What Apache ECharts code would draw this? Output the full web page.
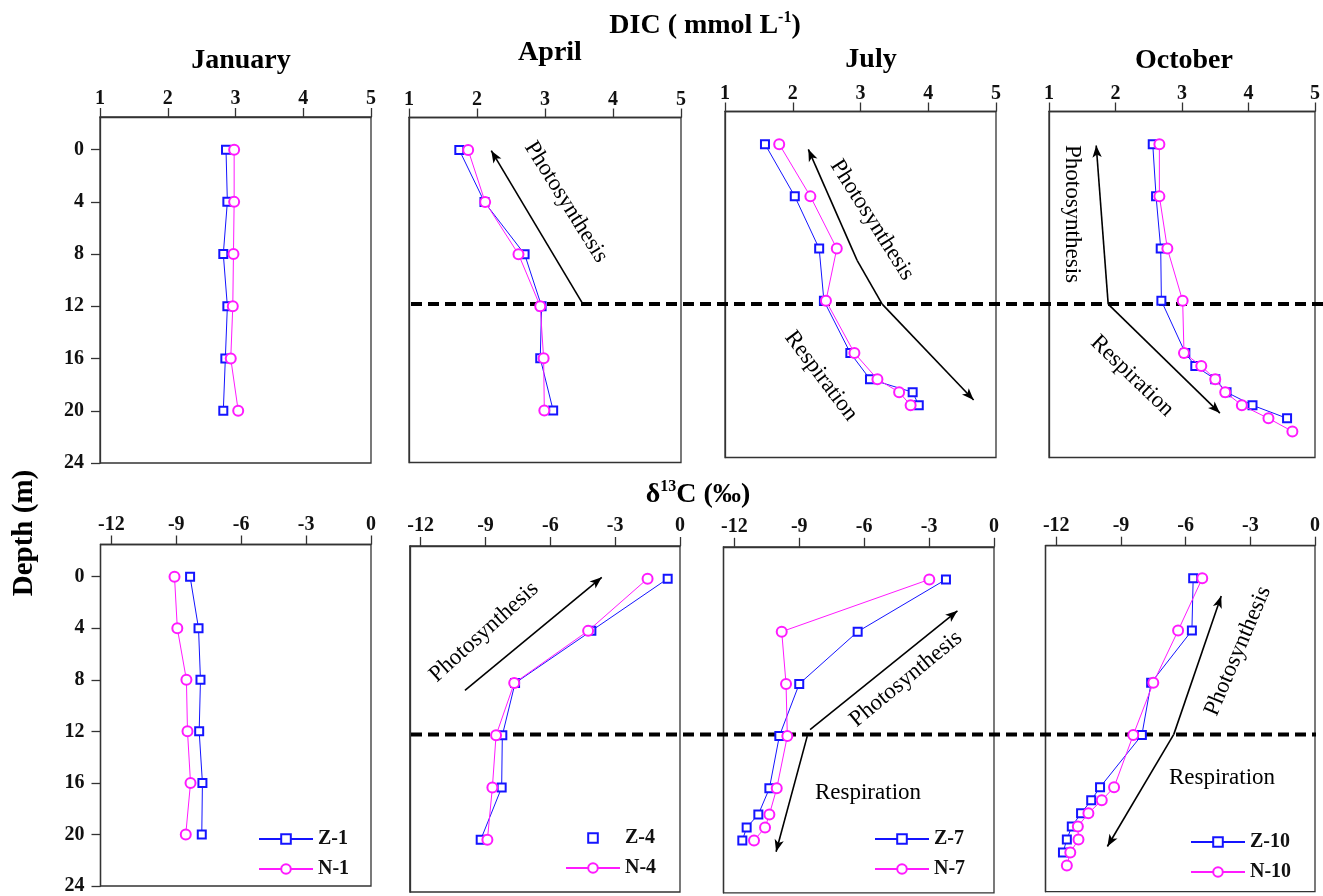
<!DOCTYPE html>
<html><head><meta charset="utf-8">
<script src="https://cdn.jsdelivr.net/npm/echarts@6/dist/echarts.min.js"></script>
<style>html,body{margin:0;padding:0;background:#fff}#c{width:1323px;height:896px}</style>
</head><body><div id="c"></div>
<script>
// ---------- data ----------
const months = ['January', 'April', 'July', 'October'];
const zNames = ['Z-1', 'Z-4', 'Z-7', 'Z-10'];
const nNames = ['N-1', 'N-4', 'N-7', 'N-10'];
const depthTicks = [0, 4, 8, 12, 16, 20, 24];
const dicTicks = [1, 2, 3, 4, 5];
const d13Ticks = [-12, -9, -6, -3, 0];

const depthStd = [0, 4, 8, 12, 16, 20];
const depthJul = [0, 4, 8, 12, 16, 18, 19, 20];
const depthOctZ = [0, 4, 8, 12, 16, 17, 18, 19, 20, 21];
const depthOctN = [0, 4, 8, 12, 16, 17, 18, 19, 20, 21, 22];

// DIC (mmol/L)
const dicZ1 = [2.86, 2.88, 2.82, 2.88, 2.85, 2.82];
const dicN1 = [2.98, 2.98, 2.97, 2.96, 2.93, 3.04];
const dicZ4 = [1.74, 2.11, 2.70, 2.95, 2.93, 3.12];
const dicN4 = [1.87, 2.12, 2.61, 2.93, 2.98, 2.99];
const dicZ7 = [1.59, 2.03, 2.39, 2.46, 2.85, 3.14, 3.77, 3.86];
const dicN7 = [1.80, 2.26, 2.65, 2.49, 2.91, 3.25, 3.57, 3.74];
const dicZ10 = [2.56, 2.61, 2.68, 2.69, 3.05, 3.20, 3.50, 3.67, 4.06, 4.58];
const dicN10 = [2.66, 2.66, 2.78, 3.01, 3.03, 3.29, 3.50, 3.65, 3.90, 4.30, 4.66];

// delta13C (permil)
const d13Z1 = [-8.36, -7.97, -7.88, -7.94, -7.79, -7.82];
const d13N1 = [-9.08, -8.95, -8.53, -8.48, -8.34, -8.56];
const d13Z4 = [-0.57, -4.10, -7.63, -8.22, -8.25, -9.22];
const d13N4 = [-1.50, -4.25, -7.67, -8.51, -8.68, -8.91];
const d13Z7 = [-2.22, -6.30, -9.00, -9.92, -10.38, -10.89, -11.43, -11.63];
const d13N7 = [-2.99, -9.81, -9.61, -9.55, -10.04, -10.38, -10.58, -11.09];
const d13Z10 = [-5.65, -5.71, -7.60, -8.03, -9.97, -10.38, -10.85, -11.28, -11.51, -11.69];
const d13N10 = [-5.23, -6.35, -7.50, -8.43, -9.32, -9.89, -10.51, -11.00, -10.97, -11.35, -11.51];

// annotation arrows per panel: [x1, d1, x2, d2, head]
const arrowsDicApr = [[3.56, 11.85, 2.21, 0.05, 1]];
const arrowsDicJul = [[3.32, 12.25, 2.95, 8.9, 0], [2.95, 8.9, 2.23, 0.4, 1], [3.32, 12.25, 4.67, 19.6, 1]];
const arrowsDicOct = [[1.89, 12.25, 1.71, 0.1, 1], [1.89, 12.25, 3.57, 20.6, 1]];
const arrowsD13Apr = [[-9.95, 8.56, -3.62, -0.1, 1]];
const arrowsD13Jul = [[-8.5, 11.5, -1.69, 2.4, 1], [-8.63, 12.0, -10.07, 20.85, 1]];
const arrowsD13Oct = [[-6.55, 11.95, -4.35, 1.36, 1], [-6.55, 11.95, -9.63, 20.54, 1]];

// ---------- layout ----------
const SERIF = 'Liberation Serif';
const BLUE = '#1414ff';
const MAG = '#ff1aff';
const gridBoxes = [
  [100, 117, 271, 346], [409, 117.5, 272, 345], [725, 111.5, 271, 346], [1049, 111.5, 271, 346],
  [100.5, 544.5, 270.5, 345.5], [409.8, 546, 270.2, 346], [723.5, 546.8, 270.5, 346], [1045.5, 545.7, 270.5, 346]
];

const panels = [
  { z: dicZ1, n: dicN1, dz: depthStd, dn: depthStd, arrows: [] },
  { z: dicZ4, n: dicN4, dz: depthStd, dn: depthStd, arrows: arrowsDicApr },
  { z: dicZ7, n: dicN7, dz: depthJul, dn: depthJul, arrows: arrowsDicJul },
  { z: dicZ10, n: dicN10, dz: depthOctZ, dn: depthOctN, arrows: arrowsDicOct },
  { z: d13Z1, n: d13N1, dz: depthStd, dn: depthStd, arrows: [] },
  { z: d13Z4, n: d13N4, dz: depthStd, dn: depthStd, arrows: arrowsD13Apr },
  { z: d13Z7, n: d13N7, dz: depthJul, dn: depthJul, arrows: arrowsD13Jul },
  { z: d13Z10, n: d13N10, dz: depthOctZ, dn: depthOctN, arrows: arrowsD13Oct }
];

const labelFont = { fontFamily: SERIF, fontWeight: 'bold', fontSize: 20, color: '#111' };
const axisLineStyle = { color: '#333', width: 1.3 };

const grid = gridBoxes.map(b => ({ left: b[0], top: b[1], width: b[2], height: b[3], show: true, borderColor: '#333', borderWidth: 1.3, backgroundColor: 'transparent' }));

const xAxis = gridBoxes.map((b, i) => {
  const top = i < 4;
  const ax = {
    gridIndex: i, type: 'value', position: 'top',
    min: top ? 1 : -12.5, max: top ? 5 : 0,
    axisLine: { show: true, onZero: false, lineStyle: axisLineStyle },
    axisTick: { show: true, length: 9, lineStyle: axisLineStyle },
    axisLabel: Object.assign({ margin: top ? 8 : 10 }, labelFont),
    splitLine: { show: false }
  };
  if (top) { ax.interval = 1; }
  else { ax.axisLabel.customValues = d13Ticks; ax.axisTick.customValues = d13Ticks; }
  return ax;
});

const yAxis = gridBoxes.map((b, i) => {
  const first = i % 4 === 0;
  return {
    gridIndex: i, type: 'value', inverse: true, min: -2.5, max: 24,
    axisLine: { show: true, onZero: false, lineStyle: axisLineStyle },
    axisTick: { show: first, length: 9, customValues: depthTicks, lineStyle: axisLineStyle },
    axisLabel: Object.assign({ show: first, margin: 16, customValues: depthTicks }, labelFont),
    splitLine: { show: false }
  };
});

function arrowMarks(list) {
  return {
    silent: true, animation: false,
    lineStyle: { color: '#000', width: 1.6, type: 'solid' },
    label: { show: false },
    symbolSize: [7, 12],
    data: list.map(a => [
      { coord: [a[0], a[1]], symbol: 'none' },
      { coord: [a[2], a[3]], symbol: a[4] ? 'arrow' : 'none' }
    ])
  };
}

const series = [];
panels.forEach((p, i) => {
  const k = i % 4;
  series.push({
    type: 'line', name: zNames[k], xAxisIndex: i, yAxisIndex: i,
    data: p.z.map((v, j) => [v, p.dz[j]]),
    symbol: 'emptyRect', symbolSize: 8,
    lineStyle: { color: BLUE, width: 1 },
    itemStyle: { color: BLUE, borderColor: BLUE, borderWidth: 1.3 },
    z: 3, animation: false,
    markLine: arrowMarks(p.arrows)
  });
  series.push({
    type: 'line', name: nNames[k], xAxisIndex: i, yAxisIndex: i,
    data: p.n.map((v, j) => [v, p.dn[j]]),
    symbol: 'emptyCircle', symbolSize: 10,
    lineStyle: { color: MAG, width: 1 },
    itemStyle: { color: MAG, borderColor: MAG, borderWidth: 1.3 },
    z: 4, animation: false
  });
});

const legendBase = {
  orient: 'vertical', itemWidth: 54, itemHeight: 12, itemGap: 10, selectedMode: false, padding: 0,
  textStyle: { fontFamily: SERIF, fontWeight: 'bold', fontSize: 20, color: '#111' }
};
const legendPos = [[258, 829], [565, 828], [874, 829], [1190, 832]];
const legend = legendPos.map((pos, k) => Object.assign({}, legendBase, {
  left: pos[0], top: pos[1],
  data: [k === 1 ? { name: zNames[k], lineStyle: { opacity: 0 } } : zNames[k], nNames[k]]
}));

// ---------- text ----------
function txt(x, y, text, size, bold, rot) {
  return {
    type: 'text', x: x, y: y, rotation: (rot || 0) * Math.PI / 180, z: 10,
    style: { text: text, fontFamily: SERIF, fontSize: size, fontWeight: bold ? 'bold' : 'normal', fill: '#000', align: 'center', verticalAlign: 'middle' }
  };
}
const graphic = [
  { type: 'line', z: 1, shape: { x1: 411, y1: 304, x2: 1323, y2: 304 }, style: { stroke: '#000', lineWidth: 4, lineDash: [11, 6] } },
  { type: 'line', z: 1, shape: { x1: 411, y1: 734.5, x2: 1316, y2: 734.5 }, style: { stroke: '#000', lineWidth: 4, lineDash: [11, 6] } },
  {
    type: 'text', x: 705, y: 26, z: 10,
    style: {
      text: '{a|DIC ( mmol L}{s|-1}{a|)}', align: 'center', verticalAlign: 'middle',
      rich: {
        a: { fontFamily: SERIF, fontWeight: 'bold', fontSize: 28, fill: '#000', lineHeight: 32 },
        s: { fontFamily: SERIF, fontWeight: 'bold', fontSize: 16, fill: '#000', verticalAlign: 'top', lineHeight: 18 }
      }
    }
  },
  {
    type: 'text', x: 698, y: 495, z: 10,
    style: {
      text: '{a|δ}{s|13}{a|C (‰)}', align: 'center', verticalAlign: 'middle',
      rich: {
        a: { fontFamily: SERIF, fontWeight: 'bold', fontSize: 28, fill: '#000', lineHeight: 32 },
        s: { fontFamily: SERIF, fontWeight: 'bold', fontSize: 16, fill: '#000', verticalAlign: 'top', lineHeight: 18 }
      }
    }
  },
  txt(241, 61, months[0], 28, true), txt(550, 53, months[1], 28, true),
  txt(871, 60, months[2], 28, true), txt(1184, 61, months[3], 28, true),
  txt(25, 533, 'Depth (m)', 29, true, 90),
  txt(566, 202, 'Photosynthesis', 23, false, -58),
  txt(872, 220, 'Photosynthesis', 23, false, -57.6),
  txt(821, 376, 'Respiration', 23, false, -53),
  txt(1072, 214, 'Photosynthesis', 23, false, -90),
  txt(1132, 376, 'Respiration', 23, false, -44),
  txt(484, 632, 'Photosynthesis', 23, false, 42),
  txt(906, 679, 'Photosynthesis', 23, false, 39.4),
  txt(868, 793, 'Respiration', 23, false, 0),
  txt(1238, 651, 'Photosynthesis', 23, false, 67),
  txt(1222, 778, 'Respiration', 23, false, 0)
];

const chart = echarts.init(document.getElementById('c'), null, { renderer: 'canvas' });
chart.setOption({
  backgroundColor: '#fff', animation: false,
  grid, xAxis, yAxis, series, legend, graphic
});
</script></body></html>
